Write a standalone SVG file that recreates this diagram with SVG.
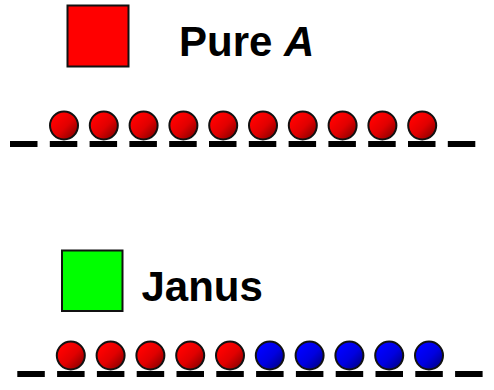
<svg xmlns="http://www.w3.org/2000/svg" width="494" height="390" viewBox="0 0 494 390">
  <defs>
    <linearGradient id="gRed" x1="0.2" y1="0.2" x2="0.9" y2="0.9">
      <stop offset="0" stop-color="#ff0000"/>
      <stop offset="0.5" stop-color="#e00000"/>
      <stop offset="1" stop-color="#8a0000"/>
    </linearGradient>
    <linearGradient id="gBlue" x1="0.2" y1="0.2" x2="0.9" y2="0.9">
      <stop offset="0" stop-color="#0000ff"/>
      <stop offset="0.5" stop-color="#0000e0"/>
      <stop offset="1" stop-color="#00008a"/>
    </linearGradient>
    <circle id="bead" r="14"/>
  </defs>
  <style>
    .label { font-family: "Liberation Sans", Arial, sans-serif; font-weight: bold; font-size: 42px; fill: #000; }
    .swatch { stroke: #111; stroke-width: 2; }
    .bar { fill: #000; }
    .red { fill: url(#gRed); stroke: #111; stroke-width: 2; }
    .blue { fill: url(#gBlue); stroke: #111; stroke-width: 2; }
  </style>

  <rect width="494" height="390" fill="#fff"/>

  <!-- legend: pure A -->
  <g id="legend-pure">
    <rect class="swatch" x="67.5" y="5.5" width="61" height="61" fill="#ff0000"/>
    <text class="label" x="179" y="56">Pure <tspan font-style="italic">A</tspan></text>
  </g>

  <!-- chain of ten A beads -->
  <g id="chain-pure">
    <g id="bars-pure" class="bar">
      <rect x="10" y="141" width="27.5" height="6"/>
      <rect x="49.8" y="141" width="27.5" height="6"/>
      <rect x="89.6" y="141" width="27.5" height="6"/>
      <rect x="129.4" y="141" width="27.5" height="6"/>
      <rect x="169.2" y="141" width="27.5" height="6"/>
      <rect x="209" y="141" width="27.5" height="6"/>
      <rect x="248.8" y="141" width="27.5" height="6"/>
      <rect x="288.6" y="141" width="27.5" height="6"/>
      <rect x="328.4" y="141" width="27.5" height="6"/>
      <rect x="368.2" y="141" width="27.5" height="6"/>
      <rect x="408" y="141" width="27.5" height="6"/>
      <rect x="447.8" y="141" width="27.5" height="6"/>
    </g>
    <g id="beads-pure" class="red">
      <use href="#bead" x="64" y="125.5"/>
      <use href="#bead" x="103.8" y="125.5"/>
      <use href="#bead" x="143.6" y="125.5"/>
      <use href="#bead" x="183.4" y="125.5"/>
      <use href="#bead" x="223.2" y="125.5"/>
      <use href="#bead" x="263" y="125.5"/>
      <use href="#bead" x="302.8" y="125.5"/>
      <use href="#bead" x="342.6" y="125.5"/>
      <use href="#bead" x="382.4" y="125.5"/>
      <use href="#bead" x="422.2" y="125.5"/>
    </g>
  </g>

  <!-- legend: Janus -->
  <g id="legend-janus">
    <rect class="swatch" x="62" y="250.5" width="60.5" height="60.5" fill="#00ff00"/>
    <text class="label" x="141.5" y="300.5">Janus</text>
  </g>

  <!-- chain of five A and five B beads -->
  <g id="chain-janus">
    <g id="bars-janus" class="bar">
      <rect x="17.3" y="371" width="27.5" height="6"/>
      <rect x="57.1" y="371" width="27.5" height="6"/>
      <rect x="96.9" y="371" width="27.5" height="6"/>
      <rect x="136.7" y="371" width="27.5" height="6"/>
      <rect x="176.5" y="371" width="27.5" height="6"/>
      <rect x="216.3" y="371" width="27.5" height="6"/>
      <rect x="256.1" y="371" width="27.5" height="6"/>
      <rect x="295.9" y="371" width="27.5" height="6"/>
      <rect x="335.7" y="371" width="27.5" height="6"/>
      <rect x="375.5" y="371" width="27.5" height="6"/>
      <rect x="415.3" y="371" width="27.5" height="6"/>
      <rect x="455.1" y="371" width="27.5" height="6"/>
    </g>
    <g id="beads-janus-a" class="red">
      <use href="#bead" x="70.8" y="355.5"/>
      <use href="#bead" x="110.6" y="355.5"/>
      <use href="#bead" x="150.4" y="355.5"/>
      <use href="#bead" x="190.2" y="355.5"/>
      <use href="#bead" x="230" y="355.5"/>
    </g>
    <g id="beads-janus-b" class="blue">
      <use href="#bead" x="269.8" y="355.5"/>
      <use href="#bead" x="309.6" y="355.5"/>
      <use href="#bead" x="349.4" y="355.5"/>
      <use href="#bead" x="389.2" y="355.5"/>
      <use href="#bead" x="429" y="355.5"/>
    </g>
  </g>
</svg>
